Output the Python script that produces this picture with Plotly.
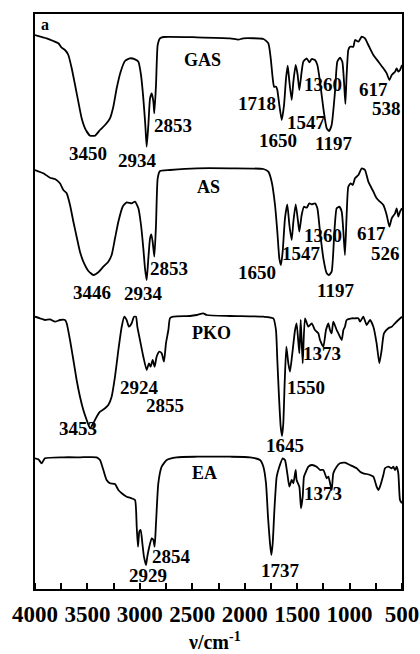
import plotly.graph_objects as go

# ---------------- data (wavenumber cm^-1, relative transmittance) ----------------
GAS_WN = [4000, 3889, 3825, 3777, 3746, 3714, 3682, 3650, 3618, 3587, 3555, 3523, 3475, 3428, 3380, 3332,
          3285, 3253, 3221, 3183, 3142, 3094, 3046, 3014, 2989, 2967, 2948, 2935, 2919, 2903, 2887, 2871,
          2862, 2846, 2830, 2808, 2776, 2458, 2140, 2061, 2013, 1822, 1775, 1752, 1733, 1720, 1701, 1689,
          1670, 1647, 1625, 1606, 1590, 1574, 1552, 1536, 1514, 1495, 1479, 1457, 1441, 1409, 1384, 1361,
          1330, 1307, 1282, 1250, 1218, 1196, 1171, 1139, 1117, 1091, 1069, 1053, 1040, 1028, 1012, 996,
          964, 948, 916, 884, 853, 821, 773, 725, 678, 646, 620, 598, 566, 551, 535, 519, 500]
GAS_T = [120, 116.7, 114, 111.7, 107.3, 105, 100, 86.7, 70, 53.3, 36.7, 26.7, 19.3, 19.3, 25, 30,
         36.7, 48.3, 66.7, 83.3, 94, 96.7, 95.7, 93.3, 80, 56.7, 30, 8.3, 30, 56.7, 61.7, 53.3,
         41.7, 70, 110, 116.7, 118, 117.7, 116.7, 115.3, 116.7, 116, 111.7, 96.7, 76.7, 68.3, 68.3, 65,
         50, 35, 50, 76.7, 89.3, 73.3, 55, 73.3, 90, 80, 65, 83.3, 93.3, 96.7, 92.7, 96,
         95, 90, 73.3, 46.7, 26.7, 24, 30, 63.3, 93.3, 97.3, 93.3, 73.3, 51, 80, 105, 108.3,
         108.3, 115, 113.3, 118.3, 116.7, 110, 100, 93.3, 86.7, 81.7, 75, 80, 83.3, 86.7, 83.3, 85, 90]

AS_WN = [4000, 3920, 3857, 3809, 3762, 3730, 3698, 3666, 3634, 3603, 3571, 3539, 3491, 3444, 3396, 3348,
         3301, 3269, 3237, 3205, 3164, 3126, 3078, 3046, 3014, 2989, 2967, 2951, 2935, 2919, 2903, 2891,
         2878, 2862, 2846, 2830, 2808, 2713, 2458, 2140, 1822, 1775, 1743, 1711, 1689, 1670, 1654, 1638,
         1616, 1594, 1574, 1552, 1536, 1514, 1495, 1479, 1457, 1435, 1409, 1384, 1361, 1330, 1307, 1282,
         1250, 1218, 1196, 1171, 1145, 1123, 1098, 1075, 1059, 1044, 1028, 1012, 990, 970, 948, 916,
         884, 853, 821, 773, 742, 710, 678, 646, 620, 598, 566, 551, 535, 519, 500]
AS_T = [125, 121.7, 117.3, 116, 111.7, 105, 101.7, 90, 73.3, 58.3, 43.3, 33.3, 24, 20, 22.7, 28.3,
        33.3, 40, 56.7, 73.3, 88.3, 92.7, 91.7, 93.3, 86.7, 70, 46.7, 26.7, 15, 36.7, 56.7, 60.7,
        53.3, 38.3, 70, 116.7, 124, 125, 126.7, 126.7, 126, 123.3, 113.3, 90, 63.3, 36.7, 30, 43.3,
        76.7, 90.7, 70, 55, 73.3, 90.7, 76.7, 63.3, 80, 88.3, 87.3, 91.7, 90.7, 91.7, 86.7, 63.3,
        36.7, 21.7, 20, 23.3, 63.3, 86.7, 88.3, 83.3, 63.3, 40, 80, 108.3, 111.7, 110, 116.7, 120,
        126.7, 125, 113.3, 103.3, 96.7, 93.3, 90, 80, 68.3, 76.7, 81.7, 86.7, 78.3, 83.3, 86.7]

PKO_WN = [4000, 3952, 3905, 3857, 3809, 3762, 3714, 3698, 3666, 3634, 3603, 3571, 3539, 3507, 3475, 3444,
          3412, 3380, 3332, 3301, 3269, 3237, 3205, 3173, 3148, 3126, 3104, 3078, 3056, 3037, 3024, 2999,
          2967, 2935, 2913, 2897, 2878, 2859, 2840, 2814, 2792, 2770, 2751, 2728, 2713, 2681, 2522, 2458,
          2395, 2363, 2140, 1822, 1727, 1702, 1689, 1673, 1657, 1644, 1632, 1619, 1603, 1584, 1568, 1546,
          1520, 1505, 1479, 1466, 1447, 1425, 1393, 1361, 1330, 1298, 1282, 1250, 1225, 1202, 1187, 1171,
          1155, 1123, 1107, 1075, 1059, 1044, 1028, 980, 948, 916, 900, 869, 837, 805, 773, 742,
          716, 694, 672, 630, 598, 567, 535, 500]
PKO_T = [123.3, 121.7, 120, 120.7, 118.3, 120, 120, 116.7, 100, 80, 60, 43.3, 30, 20, 11.7, 16.7,
         23.3, 28.3, 31.7, 35, 43.3, 63.3, 90, 113.3, 123.3, 120, 113.3, 116.7, 123.3, 123.3, 113.3, 100,
         83.3, 70, 76.7, 73.3, 80, 73.3, 83.3, 88.3, 86.7, 78.3, 96.7, 110, 121.7, 123.3, 124, 125,
         126.7, 125, 124, 123.3, 121.7, 110, 80, 43.3, 13.3, 4, 16.7, 56.7, 93.3, 76.7, 68.3, 86.7,
         110, 116.7, 86.7, 120, 76.7, 121.7, 113.3, 116.7, 110, 106.7, 100, 93.3, 110, 116.7, 110, 106.7,
         118.3, 110, 106.7, 100, 110, 113.3, 120, 121.7, 121.7, 121.7, 118.3, 123.3, 115, 120, 113.3, 96.7,
         76.7, 90, 106.7, 111.7, 113.3, 116.7, 120, 123.3]

EA_WN = [4000, 3968, 3936, 3905, 3730, 3571, 3412, 3380, 3348, 3317, 3285, 3237, 3205, 3173, 3126, 3078,
         3046, 3030, 3018, 3005, 2992, 2976, 2961, 2941, 2929, 2910, 2887, 2871, 2859, 2846, 2824, 2792,
         2744, 2649, 2458, 2140, 1950, 1854, 1822, 1797, 1778, 1759, 1746, 1733, 1717, 1695, 1670, 1638,
         1616, 1594, 1574, 1552, 1536, 1514, 1505, 1479, 1463, 1447, 1435, 1416, 1393, 1361, 1314, 1282,
         1250, 1218, 1202, 1171, 1155, 1123, 1091, 1044, 996, 932, 900, 869, 837, 805, 773, 742,
         726, 710, 678, 662, 630, 598, 583, 567, 551, 535, 519, 500]
EA_T = [121.7, 120.7, 116.7, 121.7, 122.7, 122.7, 122.7, 120, 110, 100, 96.7, 96, 90, 86.7, 83.3, 81.7,
        80, 53.3, 33.3, 48.3, 50, 36.7, 23.3, 15, 23.3, 33.3, 41.7, 40, 33.3, 56.7, 96.7, 113.3,
        120, 122.7, 123.3, 123.3, 122.7, 120, 113.3, 96.7, 63.3, 36.7, 25, 36.7, 70, 103.3, 113.3, 121.7,
        120, 106.7, 93.3, 100, 96.7, 110, 100, 93.3, 71.7, 83.3, 103.3, 108.3, 113.3, 115, 113.3, 110,
        110, 101.7, 103.3, 90, 106.7, 113.3, 116.7, 117.3, 115, 111.7, 108.3, 106.7, 106, 105, 103.3, 93.3,
        90, 93.3, 105, 111.7, 113.3, 111.7, 113.3, 110, 113.3, 106.7, 80, 76.7]

SAMPLES = ["GAS", "AS", "PKO", "EA"]
PEAKS = {
    "GAS": ["3450", "2934", "2853", "1718", "1650", "1547", "1360", "1197", "617", "538"],
    "AS": ["3446", "2934", "2853", "1650", "1547", "1360", "1197", "617", "526"],
    "PKO": ["3453", "2924", "2855", "1645", "1550", "1373"],
    "EA": ["2854", "2929", "1737", "1373"],
}
TICK_VALS = [4000, 3500, 3000, 2500, 2000, 1500, 1000, 500]
TICK_TEXT = ["4000", "3500", "3000", "2500", "2000", "1500", "1000", "500"]
X_TITLE = "ν/cm<sup>-1</sup>"

# ---------------- layout helpers (stacking offsets and label placement) ----------------
OFFSETS = {"GAS": 434, "AS": 294, "PKO": 149, "EA": 9}
SPECTRA = {"GAS": (GAS_WN, GAS_T), "AS": (AS_WN, AS_T), "PKO": (PKO_WN, PKO_T), "EA": (EA_WN, EA_T)}
NAME_POS = {"GAS": (2398, 529), "AS": (2347, 402), "PKO": (2315, 256), "EA": (2379, 116)}
PEAK_POS = {
    "GAS": [(3492, 436), (3018, 429), (2681, 464), (1886, 486), (1680, 449), (1415, 467),
            (1250, 505), (1155, 446), (774, 500), (646, 481)],
    "AS": [(3459, 297), (2967, 296), (2719, 321), (1886, 317), (1456, 336), (1250, 354),
           (1139, 299), (789, 356), (662, 336)],
    "PKO": [(3587, 161), (2999, 202), (2760, 184), (1616, 144), (1415, 202), (1266, 236)],
    "EA": [(2696, 33), (2919, 14), (1663, 19), (1256, 96)],
}

FONT = "Liberation Serif"

fig = go.Figure()
for s in SAMPLES:
    wn, t = SPECTRA[s]
    fig.add_trace(go.Scatter(
        x=wn, y=[v + OFFSETS[s] for v in t], mode="lines",
        line=dict(color="black", width=1.8, shape="spline", smoothing=0.5),
        showlegend=False, hoverinfo="skip"))

annotations = []
for s in SAMPLES:
    nx, ny = NAME_POS[s]
    annotations.append(dict(x=nx, y=ny, text=s, showarrow=False, xref="x", yref="y",
                            font=dict(family=FONT, size=18, color="black", weight="bold")))
    for lab, (px, py) in zip(PEAKS[s], PEAK_POS[s]):
        annotations.append(dict(x=px, y=py, text=lab, showarrow=False, xref="x", yref="y",
                                font=dict(family=FONT, size=19, color="black", weight="bold")))
annotations.append(dict(x=3905, y=565, text="a", showarrow=False, xref="x", yref="y",
                        font=dict(family=FONT, size=16, color="black", weight="bold")))
annotations.append(dict(x=0.49, y=-0.1125, xref="paper", yref="paper", text=X_TITLE,
                        showarrow=False, xanchor="center", yanchor="bottom", borderpad=0,
                        font=dict(family=FONT, size=20, color="black", weight="bold")))

fig.update_layout(
    width=420, height=654,
    margin=dict(l=35, r=18, t=14, b=65, autoexpand=False),
    paper_bgcolor="white", plot_bgcolor="white",
    annotations=annotations,
    xaxis=dict(range=[4000, 500], tickvals=TICK_VALS, ticktext=TICK_TEXT, automargin=False,
               ticks="outside", ticklen=3, tickwidth=1, tickcolor="rgba(0,0,0,0)",
               minor=dict(ticks="inside", dtick=250, ticklen=6, tickwidth=1.8, tickcolor="black"),
               showline=True, linecolor="black", linewidth=1.8, mirror=True,
               showgrid=False, zeroline=False,
               tickfont=dict(family=FONT, size=23, color="black", weight="bold")),
    yaxis=dict(range=[0, 575], showticklabels=False, ticks="", automargin=False,
               showline=True, linecolor="black", linewidth=1.8, mirror=True,
               showgrid=False, zeroline=False),
)

fig.write_html("out.html", config={"displayModeBar": False},
               post_script="document.body.style.margin='0';document.body.style.overflow='hidden';")
